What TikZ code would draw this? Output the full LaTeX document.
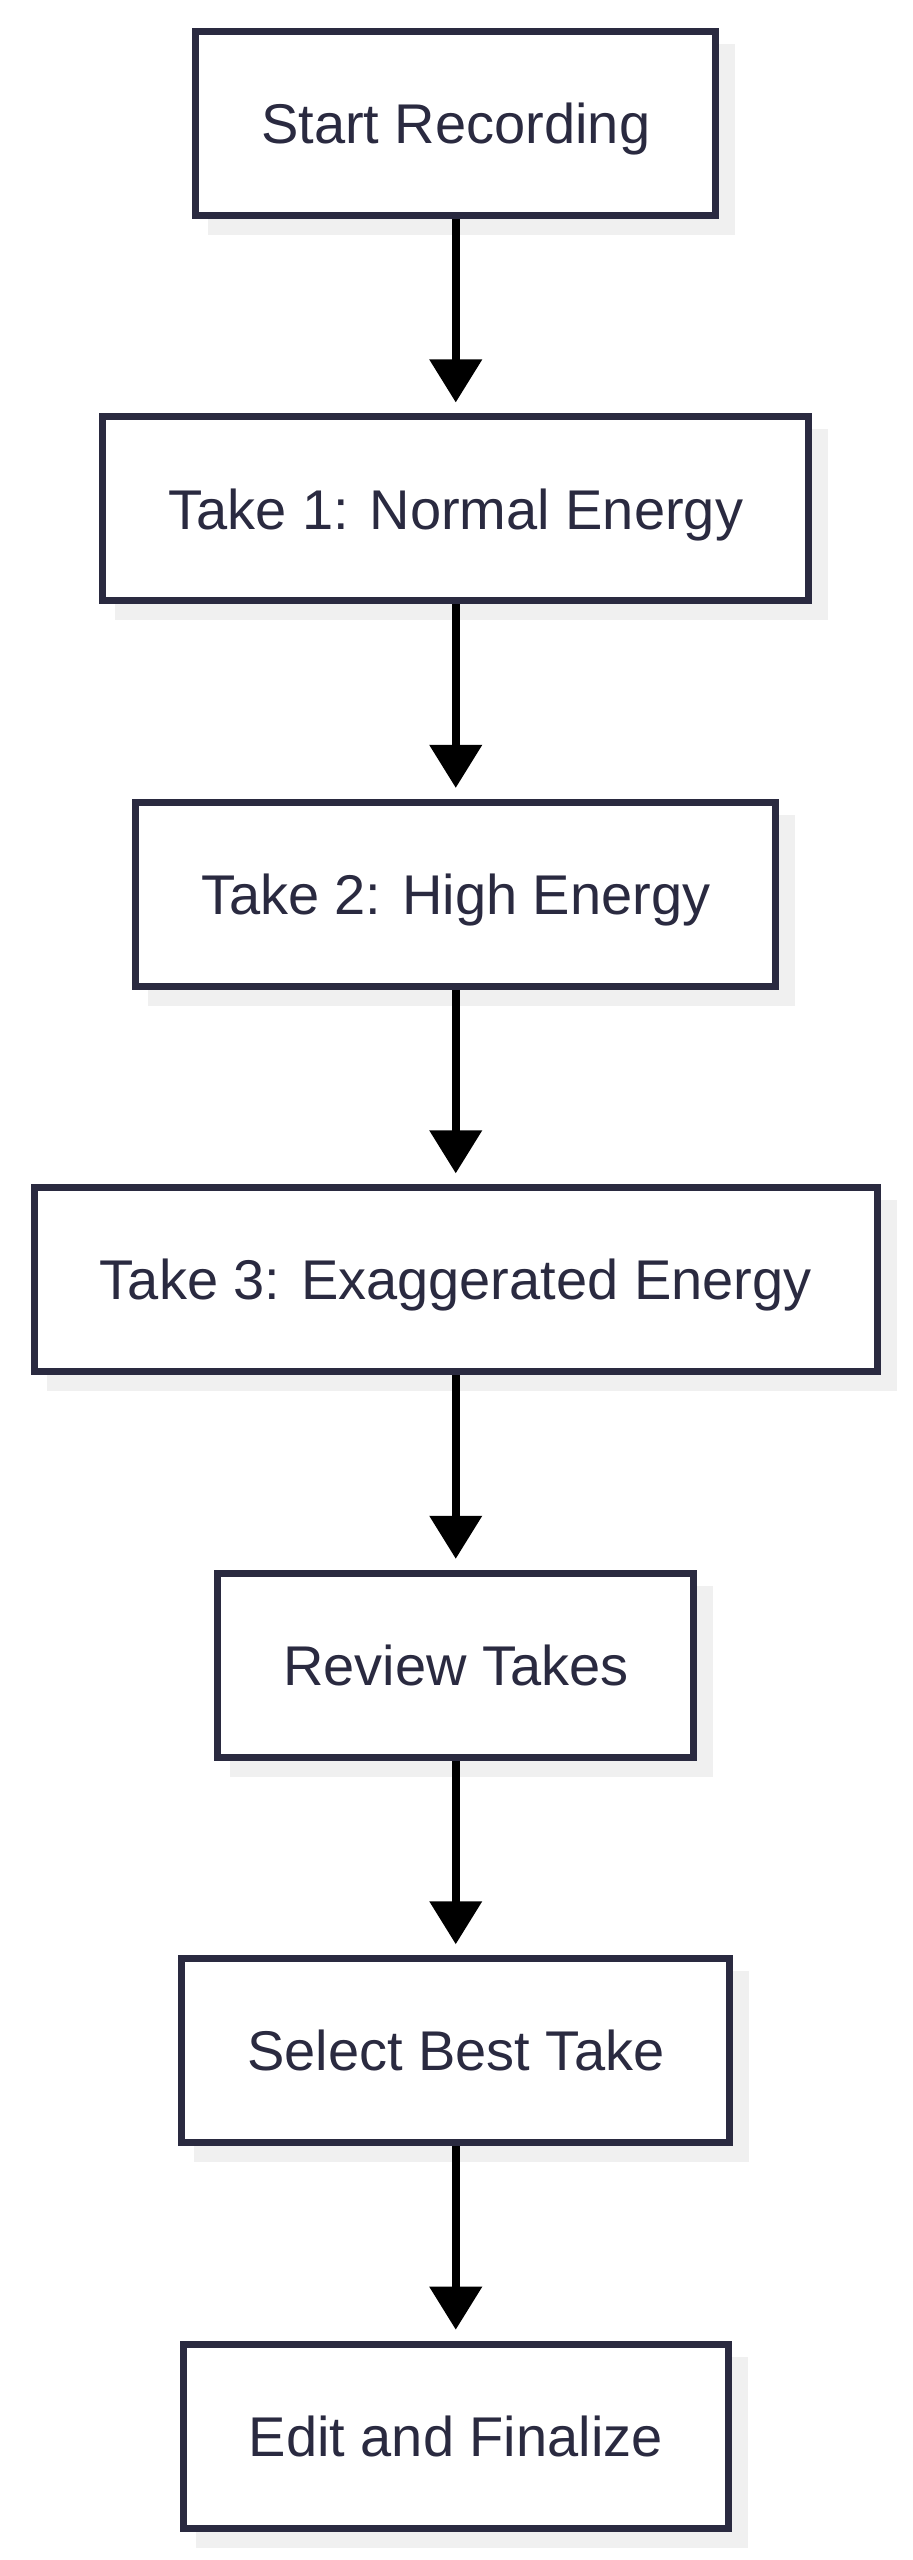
\documentclass[tikz,border=0pt]{standalone}
\usepackage{fontspec}
\setmainfont{Liberation Sans}
\usetikzlibrary{arrows.meta,shadows}

\definecolor{boxline}{RGB}{42,42,64}
\definecolor{boxshadow}{RGB}{240,240,240}

\tikzset{
  stepbox/.style={draw=boxline, line width=7pt, fill=white, text=boxline,
    font=\fontsize{56pt}{60pt}\selectfont, text height=40.2pt, text depth=0pt,
    inner xsep=65.5pt, inner ysep=0pt, minimum height=184pt,
    drop shadow={shadow xshift=16pt, shadow yshift=-16pt, fill=boxshadow,
      draw=boxshadow, line width=7pt, opacity=1}},
  flow/.style={-{Triangle[width=51pt,length=43pt]}, line width=7.5pt, shorten >=11pt}
}

\begin{document}
\begin{tikzpicture}[x=1pt, y=1pt]

        \useasboundingbox[fill=white] (0,0) rectangle (913,-2560);

        \node[stepbox] (start) at (455.75, -123.5) {Start Recording};
        \node[stepbox] (take1) at (455.75, -508.95) {Take 1: Normal Energy};
        \node[stepbox] (take2) at (455.75, -894.4) {Take 2: High Energy};
        \node[stepbox] (take3) at (455.75, -1279.85) {Take 3: Exaggerated Energy};
        \node[stepbox] (review) at (455.75, -1665.3) {Review Takes};
        \node[stepbox] (select) at (455.75, -2050.75) {Select Best Take};
        \node[stepbox] (edit) at (455.75, -2436.2) {Edit and Finalize};

        \draw[flow] (start) -- (take1);
        \draw[flow] (take1) -- (take2);
        \draw[flow] (take2) -- (take3);
        \draw[flow] (take3) -- (review);
        \draw[flow] (review) -- (select);
        \draw[flow] (select) -- (edit);

    \end{tikzpicture}
\end{document}
